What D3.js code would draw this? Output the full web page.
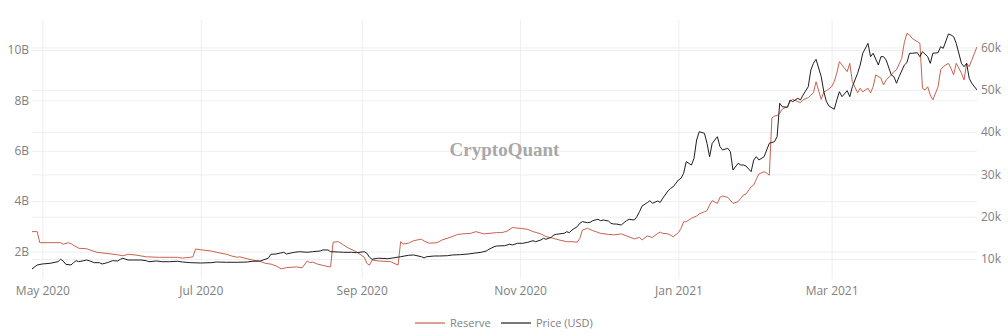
<!DOCTYPE html>
<html><head><meta charset="utf-8">
<script src="https://cdn.jsdelivr.net/npm/d3@7"></script>
<style>
html,body{margin:0;padding:0;background:#fff;}
svg{display:block;font-family:"Open Sans",sans-serif;}
</style>
</head><body><svg id="chart" width="1008" height="336"></svg>
<script>
// ---- data ----
const startDate = new Date(2020, 3, 27); // day 0 = 2020-04-27
const seriesNames = ["Reserve", "Price (USD)"];
const xTickDates = ["2020-05-01","2020-07-01","2020-09-01","2020-11-01","2021-01-01","2021-03-01"];
const leftTicks = [2, 4, 6, 8, 10];            // billions
const rightTicks = [10000, 20000, 30000, 40000, 50000, 60000];

const reserveDays = [
  0,2,3,11,12,14,15,18,21,25,
  30,33,35,37,40,44,49,56,58,61,
  62,63,65,69,71,75,77,79,80,83,
  85,88,90,92,94,96,98,102,104,106,
  107,108,110,112,114,115,116,118,120,122,
  125,128,129,130,131,134,138,141,142,143,
  145,147,150,151,153,156,158,161,164,166,
  169,171,174,176,179,181,183,185,188,191,
  193,196,198,201,203,206,208,210,211,212,
  214,216,219,222,224,227,229,232,234,235,
  237,239,241,242,243,245,247,249,250,251,
  252,254,256,257,259,260,261,262,264,265,
  266,268,270,272,273,274,275,277,278,279,
  280,282,283,284,285,286,287,288,289,291,
  292,293,295,296,297,299,300,301,302,304,
  305,306,308,309,310,311,313,314,315,316,
  318,319,320,322,323,324,325,327,328,329,
  331,332,333,335,336,337,338,339,341,342,
  343,344,345,346,347,349,350,351,353,354,
  355,356,358,359,360,361,362,364];
const reserveValues = [ // billions
  2.79,2.79,2.35,2.35,2.29,2.35,2.31,2.13,2.11,1.97,
  1.91,1.87,1.83,1.89,1.86,1.79,1.77,1.77,1.74,1.77,
  1.79,2.10,2.07,2.02,1.97,1.89,1.82,1.77,1.79,1.71,
  1.66,1.60,1.53,1.50,1.43,1.31,1.36,1.39,1.35,1.62,
  1.56,1.58,1.50,1.45,1.40,1.39,2.37,2.39,2.26,2.13,
  1.99,1.77,1.53,1.46,1.66,1.62,1.60,1.46,2.39,2.30,
  2.33,2.43,2.49,2.42,2.33,2.35,2.46,2.56,2.68,2.70,
  2.72,2.79,2.70,2.72,2.75,2.75,2.81,2.95,2.92,2.88,
  2.79,2.70,2.59,2.52,2.46,2.39,2.39,2.37,2.52,2.85,
  2.92,2.83,2.72,2.68,2.66,2.70,2.62,2.50,2.56,2.46,
  2.62,2.56,2.72,2.77,2.72,2.70,2.59,2.75,2.92,3.18,
  3.18,3.32,3.41,3.49,3.58,3.62,3.85,4.02,3.91,4.15,
  4.20,4.15,3.91,3.98,4.11,4.24,4.28,4.57,4.64,4.87,
  5.08,5.17,5.11,5.03,7.30,7.38,7.40,7.49,7.65,7.75,
  7.95,8.04,7.95,7.91,8.02,8.11,8.21,8.30,8.74,8.04,
  8.34,8.38,8.54,8.74,9.08,9.54,9.27,9.14,9.47,8.74,
  8.30,8.48,8.34,8.48,8.30,8.54,9.01,8.88,8.61,8.81,
  9.01,9.14,9.21,9.67,10.29,10.66,10.60,10.46,10.33,10.27,
  8.48,8.41,8.54,8.21,8.02,8.54,9.21,9.34,9.47,9.27,
  9.01,9.47,9.08,8.81,9.47,9.34,9.60,10.13];

const priceDays = [
  0,2,4,7,10,11,12,13,15,16,
  17,18,20,21,22,24,26,27,29,30,
  31,33,34,35,37,39,42,44,45,48,
  50,53,56,58,61,65,69,71,75,79,
  83,85,88,89,91,92,94,97,98,101,
  103,106,108,111,112,114,115,118,120,123,
  125,128,129,130,131,133,134,137,139,142,
  145,147,150,151,152,155,157,160,162,165,
  168,170,173,175,176,178,179,182,184,185,
  187,189,191,193,194,196,197,198,200,201,
  202,203,205,206,207,208,210,211,212,214,
  215,216,218,219,220,222,223,224,225,227,
  228,229,230,232,233,234,235,237,238,239,
  241,242,243,245,246,247,249,250,251,252,
  254,255,256,257,259,260,261,262,264,265,
  266,268,269,270,272,273,274,275,277,278,
  279,280,282,283,284,286,287,288,289,291,
  292,293,295,296,297,299,300,301,302,304,
  305,306,307,309,310,311,312,314,315,316,
  318,319,320,322,323,324,326,327,328,329,
  331,332,333,334,336,337,338,339,341,342,
  343,345,346,347,349,350,351,353,354,355,
  356,358,359,360,361,362,364];
const priceValues = [ // USD
  7640,8580,8820,8980,9360,9930,9530,8750,8580,9130,
  9600,9360,9600,9760,9600,9130,9130,8820,9130,9360,
  9600,9530,9930,10170,9760,9760,9760,9600,9360,9530,
  9360,9360,9460,9290,9130,9050,9130,9290,9220,9220,
  9290,9460,9530,9760,10170,11110,11180,11580,11180,11580,
  11730,11580,11730,11890,12130,12130,11730,11650,11580,11580,
  11490,11730,11350,10400,9930,10170,10170,10070,10240,10540,
  10870,10950,10540,10240,10540,10710,10710,10780,10950,11020,
  11180,11350,11580,11890,12290,12910,13070,13140,13480,13310,
  13710,13710,13950,14330,14090,14490,14890,14660,15130,15670,
  15840,15910,16080,16450,16220,16860,17640,18440,18820,18580,
  18680,19050,19390,19050,19220,18980,18440,18270,18270,18040,
  18580,19050,19390,19220,20000,21180,22530,23310,23780,23170,
  23710,23400,24400,26100,26710,27090,28680,29080,30260,33000,
  32220,33810,38130,40090,39720,37350,34180,37350,38910,36550,
  35770,36170,35370,31040,32620,32220,32220,31990,30640,33400,
  34180,33400,34180,35770,37350,37730,38910,46810,46000,45860,
  47590,47190,47990,47590,48770,50730,54680,56260,57210,53100,
  49550,47190,46170,45390,47590,49550,48370,49790,48370,50730,
  53900,55860,58630,60990,57830,58630,55860,57830,57830,57050,
  53500,53100,51540,53100,55860,56410,58630,58630,58770,57830,
  59010,57830,56260,58630,58770,60190,59810,63190,62960,62550,
  60990,56260,55460,56260,52720,51540,49950];

// ---- layout ----
const plot = {left: 32, right: 977, top: 20, bottom: 279};
const colors = {reserve: "#c9624f", price: "#1e1e1e", grid: "#eeeeee", text: "#808080"};

const svg = d3.select("#chart");
const toDate = d => d3.timeDay.offset(startDate, d);

const x = d3.scaleTime()
  .domain([startDate, d3.timeDay.offset(startDate, 364)])
  .range([plot.left, plot.right]);
const yL = d3.scaleLinear().domain([0.909, 11.19]).range([plot.bottom, plot.top]);
const yR = d3.scaleLinear().domain([5270, 66500]).range([plot.bottom, plot.top]);

const plotW = plot.right - plot.left, plotH = plot.bottom - plot.top;

// axes + grids
const gx = svg.append("g").attr("transform", `translate(0,${plot.bottom})`)
  .call(d3.axisBottom(x)
    .tickValues(xTickDates.map(s => d3.timeParse("%Y-%m-%d")(s)))
    .tickFormat(d3.timeFormat("%b %Y"))
    .tickSize(-plotH).tickPadding(7.5));

const gl = svg.append("g").attr("transform", `translate(${plot.left},0)`)
  .call(d3.axisLeft(yL).tickValues(leftTicks)
    .tickFormat(d => d + "B").tickSize(-plotW).tickPadding(3));

const gr = svg.append("g").attr("transform", `translate(${plot.right},0)`)
  .call(d3.axisRight(yR).tickValues(rightTicks)
    .tickFormat(d => (d / 1000) + "k").tickSize(-plotW).tickPadding(4));

[gx, gl, gr].forEach(g => {
  g.select(".domain").remove();
  g.selectAll(".tick line").attr("stroke", colors.grid).attr("stroke-width", 1);
  g.selectAll(".tick text").attr("fill", colors.text).attr("font-size", 12)
    .attr("font-family", "'Open Sans', sans-serif");
});

// watermark
svg.append("text")
  .attr("x", (plot.left + plot.right) / 2).attr("y", 156)
  .attr("text-anchor", "middle")
  .attr("font-family", "'Liberation Serif', serif")
  .attr("font-weight", "bold")
  .attr("font-size", 19)
  .attr("fill", "#a8a8a8")
  .text("CryptoQuant");

// clip
svg.append("clipPath").attr("id", "clip").append("rect")
  .attr("x", plot.left).attr("y", plot.top).attr("width", plotW).attr("height", plotH);

const reserveData = reserveDays.map((d, i) => ({date: toDate(d), v: reserveValues[i]}));
const priceData = priceDays.map((d, i) => ({date: toDate(d), v: priceValues[i]}));

const g = svg.append("g").attr("clip-path", "url(#clip)");
g.append("path").datum(reserveData)
  .attr("fill", "none").attr("stroke", colors.reserve).attr("stroke-width", 1)
  .attr("stroke-linejoin", "round")
  .attr("d", d3.line().x(d => x(d.date)).y(d => yL(d.v)));
g.append("path").datum(priceData)
  .attr("fill", "none").attr("stroke", colors.price).attr("stroke-width", 1)
  .attr("stroke-linejoin", "round")
  .attr("d", d3.line().x(d => x(d.date)).y(d => yR(d.v)));

// legend
const legend = svg.append("g").attr("font-size", 11).attr("fill", colors.text);
const legendItems = [
  {name: seriesNames[0], color: colors.reserve, x: 415},
  {name: seriesNames[1], color: colors.price, x: 501}
];
legendItems.forEach(it => {
  legend.append("line").attr("x1", it.x).attr("x2", it.x + 30)
    .attr("y1", 323).attr("y2", 323).attr("stroke", it.color).attr("stroke-width", 1.2);
  legend.append("text").attr("x", it.x + 35).attr("y", 327).attr("fill", colors.text)
    .text(it.name);
});
</script>
</body></html>
